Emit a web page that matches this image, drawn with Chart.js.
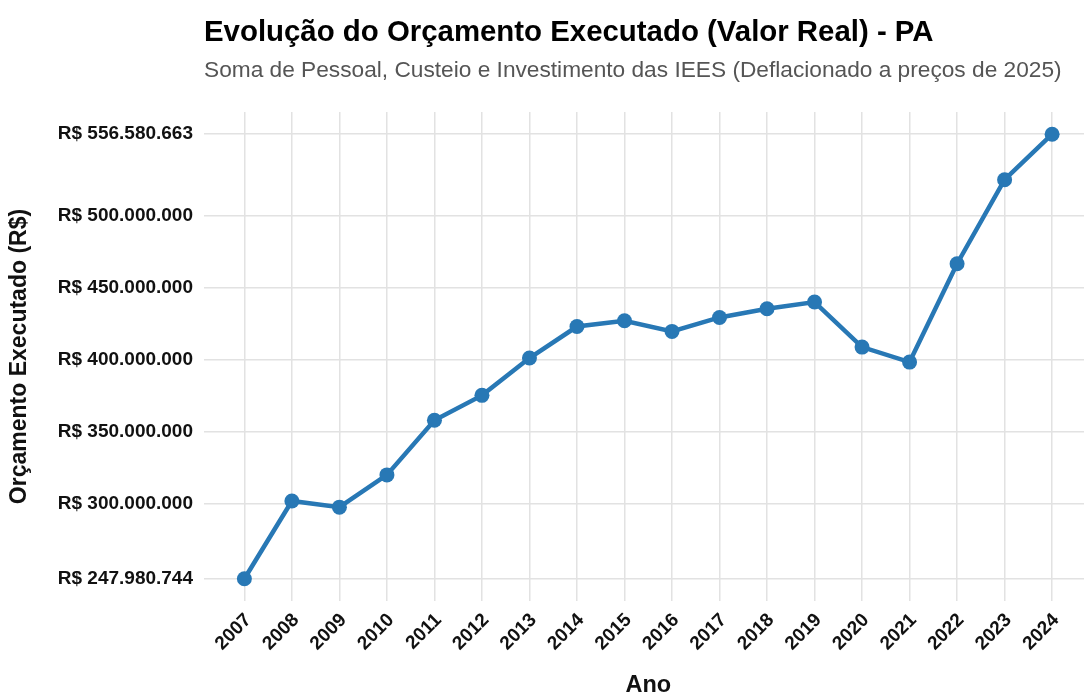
<!DOCTYPE html>
<html>
<head>
<meta charset="utf-8">
<script src="https://cdn.jsdelivr.net/npm/chart.js@4/dist/chart.umd.min.js"></script>
<style>
  html, body { margin: 0; padding: 0; background: #ffffff; overflow: hidden; }
  #wrap { width: 1084px; height: 695px; position: relative; overflow: hidden; }
</style>
</head>
<body>
<div id="wrap"><canvas id="c" width="1100" height="695"></canvas></div>
<script>
// ---- data ----
const years = [2007, 2008, 2009, 2010, 2011, 2012, 2013, 2014, 2015, 2016, 2017, 2018, 2019, 2020, 2021, 2022, 2023, 2024];
const orcamento = [247980744, 302000000, 297700000, 320100000, 358000000, 375300000, 401200000, 423100000, 427100000, 419700000, 429400000, 435400000, 440100000, 408800000, 398400000, 466700000, 525000000, 556580663];
const yTickValues = [247980744, 300000000, 350000000, 400000000, 450000000, 500000000, 556580663];
const titleText = 'Evolução do Orçamento Executado (Valor Real) - PA';
const subtitleText = 'Soma de Pessoal, Custeio e Investimento das IEES (Deflacionado a preços de 2025)';
const xTitleText = 'Ano';
const yTitleText = 'Orçamento Executado (R$)';

function fmtBRL(v) {
  const s = Math.round(v).toString();
  return 'R$ ' + s.replace(/\B(?=(\d{3})+(?!\d))/g, '.');
}

const FONT = "'Liberation Sans', Arial, Helvetica, sans-serif";
const lineColor = '#2878b5';
const gridColor = '#e2e2e2';

const yMinVal = Math.min(...orcamento), yMaxVal = Math.max(...orcamento);
const yPad = (yMaxVal - yMinVal) * 0.05;
const xPad = (years[years.length - 1] - years[0]) * 0.05;

new Chart(document.getElementById('c'), {
  type: 'line',
  data: {
    datasets: [{
      data: years.map((yr, i) => ({ x: yr, y: orcamento[i] })),
      borderColor: lineColor,
      backgroundColor: lineColor,
      borderWidth: 4.5,
      pointRadius: 7.5,
      pointHoverRadius: 7.5,
      pointBackgroundColor: lineColor,
      pointBorderWidth: 0,
      tension: 0,
      fill: false
    }]
  },
  options: {
    responsive: false,
    animation: false,
    layout: { padding: { left: 0, right: 7, top: 0, bottom: 0 } },
    plugins: {
      legend: { display: false },
      tooltip: { enabled: false },
      title: {
        display: true,
        text: titleText,
        align: 'start',
        fullSize: false,
        color: '#000000',
        font: { family: FONT, size: 29.4, weight: 'bold', lineHeight: 1.2 },
        padding: { top: 15, bottom: 3 }
      },
      subtitle: {
        display: true,
        text: subtitleText,
        align: 'start',
        fullSize: false,
        color: '#555555',
        font: { family: FONT, size: 22.7, weight: 'normal', lineHeight: 1.2 },
        padding: { top: 4, bottom: 27.5 }
      }
    },
    scales: {
      x: {
        type: 'linear',
        min: years[0] - xPad,
        max: years[years.length - 1] + xPad,
        afterBuildTicks: (scale) => { scale.ticks = years.map(v => ({ value: v })); },
        afterFit: (scale) => { scale.height = 94; },
        grid: { color: gridColor, lineWidth: 1.5, drawTicks: false },
        border: { display: false },
        ticks: {
          autoSkip: false,
          maxRotation: 45,
          minRotation: 45,
          padding: 8,
          labelOffset: 4,
          color: '#111111',
          font: { family: FONT, size: 19, weight: 'bold' },
          callback: (v) => String(v)
        },
        title: {
          display: true,
          text: xTitleText,
          color: '#111111',
          font: { family: FONT, size: 23.5, weight: 'bold', lineHeight: 0.78 },
          padding: { top: 0, bottom: 0 }
        }
      },
      y: {
        type: 'linear',
        min: yMinVal - yPad,
        max: yMaxVal + yPad,
        afterBuildTicks: (scale) => { scale.ticks = yTickValues.map(v => ({ value: v })); },
        afterFit: (scale) => { scale.width = 204; },
        grid: { color: gridColor, lineWidth: 1.5, drawTicks: false },
        border: { display: false },
        ticks: {
          padding: 11,
          color: '#111111',
          font: { family: FONT, size: 19, weight: 'bold' },
          callback: (v) => fmtBRL(v)
        },
        title: {
          display: true,
          text: yTitleText,
          color: '#111111',
          font: { family: FONT, size: 23, weight: 'bold', lineHeight: 1.2 },
          padding: { top: 6, bottom: 0 }
        }
      }
    }
  }
});
</script>
</body>
</html>
